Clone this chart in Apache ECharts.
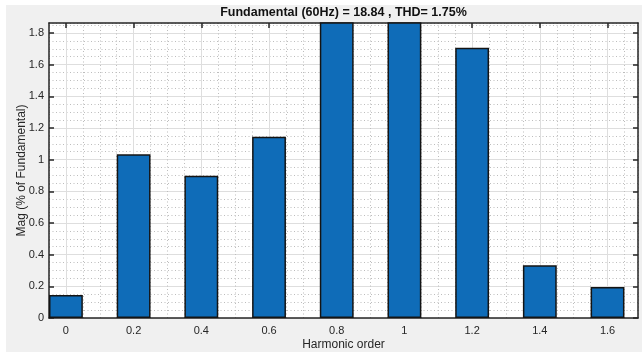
<!DOCTYPE html>
<html>
<head>
<meta charset="utf-8">
<script src="https://cdn.jsdelivr.net/npm/echarts@6/dist/echarts.min.js"></script>
<style>
  html, body { margin: 0; padding: 0; background: #ffffff; }
  #frame { position: absolute; left: 6px; top: 5px; width: 636px; height: 347px; background: #f0f0f0; }
  #chart { position: absolute; left: 0; top: 0; width: 642px; height: 354px; }
</style>
</head>
<body>
<div id="frame"></div>
<div id="chart"></div>
<script>
// Harmonic spectrum, magnitudes in % of the fundamental
const harmonicOrder = [0, 0.2, 0.4, 0.6, 0.8, 1.0, 1.2, 1.4, 1.6];
const magnitude     = [0.145, 1.034, 0.899, 1.145, 2.30, 2.20, 1.707, 0.333, 0.196];

const xTickValues = [0, 0.2, 0.4, 0.6, 0.8, 1, 1.2, 1.4, 1.6];
const yTickValues = [0, 0.2, 0.4, 0.6, 0.8, 1, 1.2, 1.4, 1.6, 1.8];

const titleText = 'Fundamental (60Hz) = 18.84 , THD= 1.75%';
const xName = 'Harmonic order';
const yName = 'Mag (% of Fundamental)';

// axis limits and bar width in data units
const xMin = -0.05, xMax = 1.69;
const yMin = 0, yMax = 1.863;
const minorStep = 0.05;
const barSpan = 0.1;

// plot box in pixels
const gridBox = { left: 49, right: 4, top: 23, bottom: 36 };
const chartW = 642;
const plotW = chartW - gridBox.left - gridBox.right;
const barPx = barSpan * plotW / (xMax - xMin);

const FONT = 'Liberation Sans, Arial, Helvetica, sans-serif';
const INK = '#262626';
const MAJOR = '#dedede';
const MINOR = '#bdbdbd';
const NONE = 'rgba(0,0,0,0)';

const boxLine = { show: true, onZero: false, lineStyle: { color: INK, width: 1.5 } };
const innerTick = (vals) => ({ show: true, inside: true, length: 5, customValues: vals, lineStyle: { color: INK, width: 1.5 } });
const hidden = { axisLine: { show: false }, axisTick: { show: false }, axisLabel: { show: false } };

// grid-only axes: ticks every minorStep, line colours cycle so that
// solid lines fall on major positions and dotted ones between them
function gridAxis(min, max, colors, type) {
  return Object.assign({
    type: 'value', min: min, max: max, interval: minorStep,
    splitLine: { show: true, lineStyle: { color: colors, width: 1, type: type } }
  }, hidden);
}

const chart = echarts.init(document.getElementById('chart'), null, { renderer: 'canvas' });

chart.setOption({
  backgroundColor: 'transparent',
  animation: false,
  title: {
    text: titleText,
    left: gridBox.left + plotW / 2,
    textAlign: 'center',
    top: 6,
    padding: 0,
    textStyle: { fontFamily: FONT, fontSize: 12.5, fontWeight: 'bold', color: '#111' }
  },
  grid: Object.assign({ show: true, backgroundColor: '#ffffff', borderWidth: 0, containLabel: false, outerBoundsMode: 'none' }, gridBox),
  xAxis: [
    {
      type: 'value', min: xMin, max: xMax, position: 'bottom',
      axisLine: boxLine,
      axisTick: innerTick(xTickValues),
      axisLabel: { customValues: xTickValues, margin: 7, fontFamily: FONT, fontSize: 11, color: INK },
      splitLine: { show: false },
      name: xName, nameLocation: 'middle', nameGap: 21, nameMoveOverlap: false,
      nameTextStyle: { fontFamily: FONT, fontSize: 12, color: INK }
    },
    {
      type: 'value', min: xMin, max: xMax, position: 'top',
      axisLine: boxLine,
      axisTick: innerTick(xTickValues),
      axisLabel: { show: false },
      splitLine: { show: false }
    },
    gridAxis(xMin, xMax, [MINOR, NONE, MINOR, MINOR], [1, 2.5]),
    gridAxis(xMin, xMax, [NONE, MAJOR, NONE, NONE], 'solid')
  ],
  yAxis: [
    {
      type: 'value', min: yMin, max: yMax, position: 'left',
      axisLine: boxLine,
      axisTick: innerTick(yTickValues),
      axisLabel: { customValues: yTickValues, margin: 5, fontFamily: FONT, fontSize: 11, color: INK },
      splitLine: { show: false },
      name: yName, nameLocation: 'middle', nameGap: 21, nameMoveOverlap: false,
      nameTextStyle: { fontFamily: FONT, fontSize: 12, color: INK }
    },
    {
      type: 'value', min: yMin, max: yMax, position: 'right',
      axisLine: boxLine,
      axisTick: innerTick(yTickValues),
      axisLabel: { show: false },
      splitLine: { show: false }
    },
    gridAxis(yMin, yMax, [NONE, MINOR, MINOR, MINOR], [1, 2.5]),
    gridAxis(yMin, yMax, [MAJOR, NONE, NONE, NONE], 'solid')
  ],
  series: [{
    type: 'bar',
    xAxisIndex: 0,
    yAxisIndex: 0,
    clip: true,
    barWidth: barPx,
    z: 3,
    data: harmonicOrder.map((h, i) => [h, magnitude[i]]),
    itemStyle: { color: '#0f6cb8', borderColor: '#141414', borderWidth: 1.5 }
  }]
});
</script>
</body>
</html>
